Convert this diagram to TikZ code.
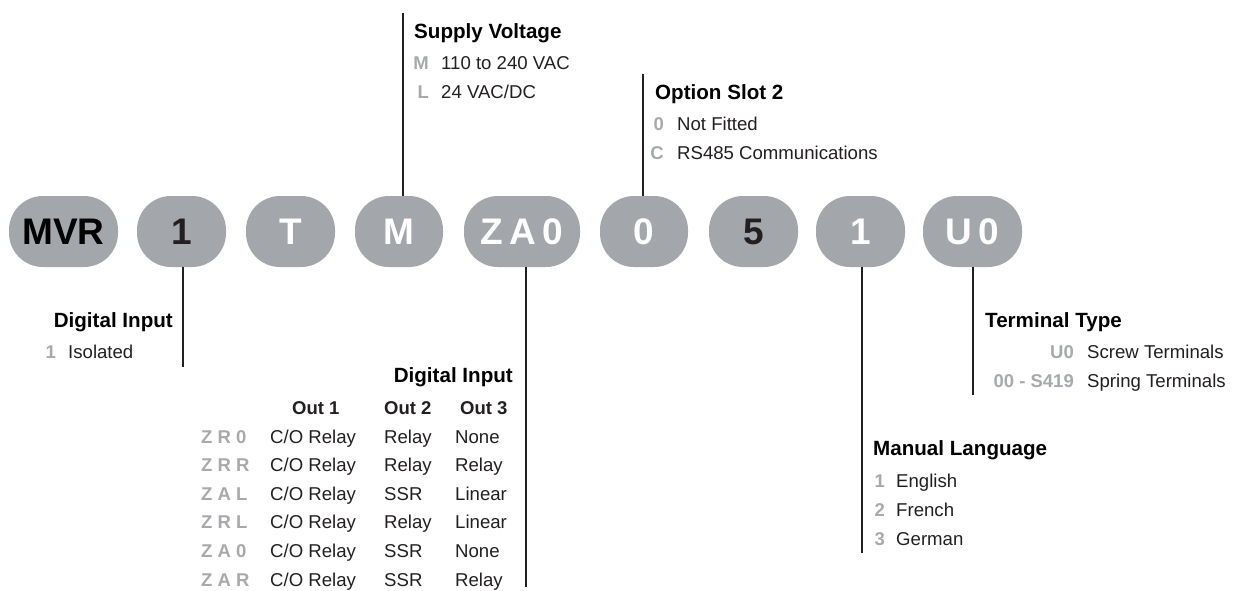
\documentclass[tikz,border=0pt]{standalone}
\usepackage{fontspec}
\setmainfont{Liberation Sans}
\definecolor{pillgray}{HTML}{A3A6AA}
\definecolor{codegray}{HTML}{A7A9AC}
\definecolor{ink}{HTML}{231F20}
\tikzset{
  pill/.style={fill=pillgray,rounded corners=34pt,minimum height=71pt,inner sep=0pt,
    font=\fontsize{37}{39}\selectfont\bfseries},
  wire/.style={draw=ink,line width=2.3pt},
  head/.style={anchor=base west,inner sep=0pt,font=\fontsize{20.6}{24}\selectfont\bfseries},
  colhead/.style={anchor=base west,inner sep=0pt,text=ink,font=\fontsize{18.5}{22}\selectfont\bfseries},
  item/.style={anchor=base west,inner sep=0pt,text=ink,font=\fontsize{18.6}{22}\selectfont},
  code/.style={anchor=base east,inner sep=0pt,text=codegray,font=\fontsize{18.5}{22}\selectfont\bfseries},
}
\begin{document}
\begin{tikzpicture}[x=1pt,y=-1pt]
        \useasboundingbox (0,0) rectangle (1239,590);
        % order code pills
        \node[pill,minimum width=109pt,text=black] (mvr) at (63.5,231.5) {MVR};
        \node[pill,minimum width=89pt,text=ink] (pIn) at (181.5,231.5) {1};
        \node[pill,minimum width=89pt,text=white] (pT) at (290.5,231.5) {T};
        \node[pill,minimum width=88pt,text=white] (pSup) at (399,231.5) {M};
        \node[pill,minimum width=116pt,text=white] (pOut) at (522,231.5) {Z\,A\,0};
        \node[pill,minimum width=88pt,text=white] (pSlot) at (644,231.5) {0};
        \node[pill,minimum width=89pt,text=ink] (pFive) at (753.5,231.5) {5};
        \node[pill,minimum width=89pt,text=white] (pLang) at (860.5,231.5) {1};
        \node[pill,minimum width=99pt,text=white] (pTerm) at (972.5,231.5) {U\,0};
        % leader lines
        \coordinate (supTop) at (403,13);
        \coordinate (slotTop) at (643,74);
        \coordinate (inEnd) at (183,367);
        \coordinate (outEnd) at (526,587);
        \coordinate (langEnd) at (862,553);
        \coordinate (termEnd) at (973,395);
        \draw[wire] (supTop) -- (supTop |- pSup.north);
        \draw[wire] (slotTop) -- (slotTop |- pSlot.north);
        \draw[wire] (inEnd |- pIn.south) -- (inEnd);
        \draw[wire] (outEnd |- pOut.south) -- (outEnd);
        \draw[wire] (langEnd |- pLang.south) -- (langEnd);
        \draw[wire] (termEnd |- pTerm.south) -- (termEnd);
        % supply voltage
        \node[head] (supHead) at (414,38) {Supply Voltage};
        \node[code] (supM) at (429,69) {M};
        \node[item] (supMtxt) at (441,69) {110 to 240 VAC};
        \node[code] (supL) at (429,98) {L};
        \node[item] (supLtxt) at (441,98) {24 VAC/DC};
        % option slot 2
        \node[head] (slotHead) at (655,99) {Option Slot 2};
        \node[code] (slot0) at (664,130) {0};
        \node[item] (slot0txt) at (677,130) {Not Fitted};
        \node[code] (slotC) at (664,159) {C};
        \node[item] (slotCtxt) at (677,159) {RS485 Communications};
        % digital input
        \node[head,anchor=base east] (inHead) at (173,327) {Digital Input};
        \node[code] (in1) at (56,358) {1};
        \node[item] (in1txt) at (68,358) {Isolated};
        % outputs table
        \node[head,anchor=base east] (outHead) at (513,382) {Digital Input};
        \node[colhead] (outC1) at (292,414) {Out 1};
        \node[colhead] (outC2) at (384,414) {Out 2};
        \node[colhead] (outC3) at (460,414) {Out 3};
        \foreach \c/\p/\q [count=\i from 0] in {Z R 0/Relay/None,Z R R/Relay/Relay,Z A L/SSR/Linear,
            Z R L/Relay/Linear,Z A 0/SSR/None,Z A R/SSR/Relay}
            {
                \node[code,anchor=base west] (row\i) at (201,443+28.6*\i) {\c};
                \node[item] (row\i a) at (270,443+28.6*\i) {C/O Relay};
                \node[item] (row\i b) at (384,443+28.6*\i) {\p};
                \node[item] (row\i c) at (455,443+28.6*\i) {\q};
            }
        % manual language
        \node[head] (langHead) at (873,455) {Manual Language};
        \foreach \n/\t/\y in {1/English/487,2/French/516,3/German/545}
            {
                \node[code] (lang\n) at (885,\y) {\n};
                \node[item] (lang\n txt) at (896,\y) {\t};
            }
        % terminal type
        \node[head] (termHead) at (985,327) {Terminal Type};
        \node[code] (termU) at (1074,358) {U0};
        \node[item] (termUtxt) at (1087,358) {Screw Terminals};
        \node[code] (termS) at (1074,387) {00 - S419};
        \node[item] (termStxt) at (1087,387) {Spring Terminals};
    \end{tikzpicture}
\end{document}
